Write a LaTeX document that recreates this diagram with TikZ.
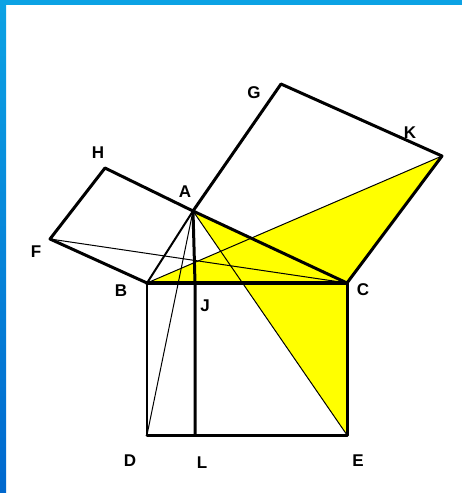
\documentclass[tikz,border=0pt]{standalone}
\usepackage{fontspec}
\setsansfont{Liberation Sans}
\definecolor{topblue}{RGB}{12,162,228}
\definecolor{botblue}{RGB}{0,104,206}
\definecolor{fillyel}{RGB}{255,255,0}
\begin{document}
\begin{tikzpicture}[x=1pt,y=-1pt,
  lbl/.style={font=\sffamily\bfseries\fontsize{17}{17}\selectfont, inner sep=0pt},
  edge/.style={line width=3pt, line join=round, line cap=round},
  base/.style={line width=4pt, line cap=round},
  side/.style={line width=2pt},
  fine/.style={line width=1pt}]
\useasboundingbox (0,0) rectangle (462,493);
\fill[white] (0,0) rectangle (462,493);
\fill[topblue] (0,0) rectangle (462,5);
\shade[top color=topblue, bottom color=botblue] (0,0) rectangle (6,493);
% vertices
\coordinate (A) at (193,211);
\coordinate (B) at (147,283);
\coordinate (C) at (347,283);
\coordinate (D) at (147,435);
\coordinate (E) at (347,435);
\coordinate (J) at (195,283);
\coordinate (L) at (195,435);
\coordinate (F) at (50,239);
\coordinate (H) at (105,168);
\coordinate (G) at (281,84);
\coordinate (K) at (442,156);
% yellow triangles
\fill[fillyel] (B) -- (K) -- (C) -- cycle;
\fill[fillyel] (A) -- (C) -- (E) -- cycle;
% thin lines
\draw[fine] (F) -- (C);
\draw[fine] (B) -- (K);
\draw[fine] (A) -- (D);
\draw[fine] (A) -- (E);
% square on AB
\draw[edge] (A) -- (H) -- (F) -- (B);
\draw[side] (B) -- (A);
% square on AC
\draw[edge] (A) -- (G) -- (K) -- (C) -- cycle;
% square on BC
\draw[side] (B) -- (D);
\draw[edge] (D) -- (E) -- (C);
\draw[base] (B) -- (C);
\draw[edge] (A) -- (J) -- (L);
% labels
\node[lbl] (lA) at (185,192) {A};
\node[lbl] (lB) at (121,291) {B};
\node[lbl] (lC) at (363,290) {C};
\node[lbl] (lD) at (130,461) {D};
\node[lbl] (lE) at (358,461) {E};
\node[lbl] (lF) at (36,252) {F};
\node[lbl] (lG) at (254,93) {G};
\node[lbl] (lH) at (98,153) {H};
\node[lbl] (lJ) at (205,306) {J};
\node[lbl] (lK) at (410,133) {K};
\node[lbl] (lL) at (202,463) {L};
\end{tikzpicture}
\end{document}
